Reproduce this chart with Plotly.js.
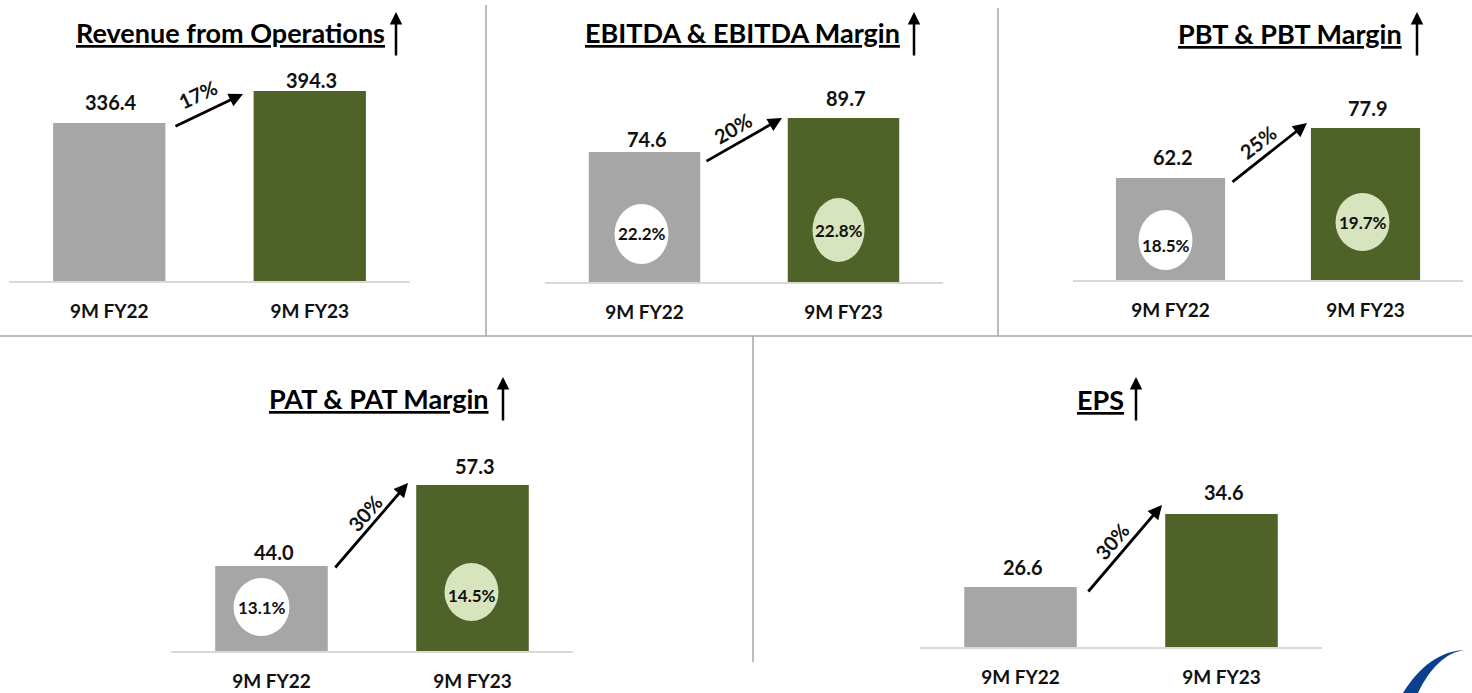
<!DOCTYPE html>
<html><head><meta charset="utf-8">
<script src="https://cdn.plot.ly/plotly-3.0.1.min.js"></script>
<style>html,body{margin:0;padding:0;background:#fff;overflow:hidden;} #chart{width:1472px;height:693px;}</style>
</head><body><div id="chart"></div>
<script>
// ---------------- data ----------------
const categories = ['9M FY22', '9M FY23'];
const titles = ['Revenue from Operations', 'EBITDA & EBITDA Margin', 'PBT & PBT Margin', 'PAT & PAT Margin', 'EPS'];
const revenue = [336.4, 394.3];
const ebitda = [74.6, 89.7];
const ebitdaMargin = [22.2, 22.8];
const pbt = [62.2, 77.9];
const pbtMargin = [18.5, 19.7];
const pat = [44.0, 57.3];
const patMargin = [13.1, 14.5];
const eps = [26.6, 34.6];
const growthLabels = ['17%', '20%', '25%', '30%', '30%'];

// ---------------- layout / style ----------------
const W = 1472, H = 693;
const px = x => x / W;
const py = y => 1 - y / H;
const FONT = 'Lato, "Open Sans", sans-serif';
const GRAY = '#a6a6a6', GREEN = '#4f6228', LIGHT = '#d7e4bd', WHITE = '#ffffff';
const BAR_COLORS = [GRAY, GREEN];
const CIRCLE_COLORS = [WHITE, LIGHT];

const panels = [
  { values: revenue, margins: null, title: titles[0], growth: growthLabels[0],
    box: [9, 410, 60, 281], yRange: [50.5, 450.4], titleXY: [231, 32], upArrow: [396, 12],
    valueShift: [21, 10.5], arrow: { hx: 0.667, ys: -3, ax: -69, ay: 33 },
    gLabel: { dx: -45, ys: -3, angle: -25 }, circles: null },
  { values: ebitda, margins: ebitdaMargin, title: titles[1], growth: growthLabels[1],
    box: [545, 943, 60, 282], yRange: [16.87, 115.46], titleXY: [743, 32], upArrow: [914, 12],
    valueShift: [13, 20], arrow: { hx: 0.691, ys: 0, ax: -77, ay: 44 },
    gLabel: { dx: -49, ys: -10, angle: -30 },
    circles: [{ dx: -3, dy: 48, rx: 27, ry: 30, ty: 49 }, { dx: -5, dy: 52, rx: 26, ry: 32, ty: 52 }] },
  { values: pbt, margins: pbtMargin, title: titles[2], growth: growthLabels[2],
    box: [1073, 1463, 60, 280], yRange: [30.17, 99.25], titleXY: [1290, 34], upArrow: [1417, 12],
    valueShift: [21, 20], arrow: { hx: 0.70, ys: 5, ax: -76, ay: 60 },
    gLabel: { dx: -49, ys: -14, angle: -38 },
    circles: [{ dx: -5, dy: 40, rx: 27, ry: 30, ty: 35 }, { dx: -3, dy: 58, rx: 27, ry: 29, ty: 58 }] },
  { values: pat, margins: patMargin, title: titles[3], growth: growthLabels[3],
    box: [171, 573, 440, 651], yRange: [30.04, 64.69], titleXY: [379, 398], upArrow: [503, 377],
    valueShift: [14, 19], arrow: { hx: 0.679, ys: 2, ax: -74, ay: 86 },
    gLabel: { dx: -43, ys: -28, angle: -49 },
    circles: [{ dx: -10, dy: 44, rx: 28, ry: 29, ty: 44 }, { dx: -1, dy: 59, rx: 27, ry: 29, ty: 56 }] },
  { values: eps, margins: null, title: titles[4], growth: growthLabels[4],
    box: [920, 1322, 440, 647], yRange: [20.02, 42.71], titleXY: [1100, 400], upArrow: [1136, 377],
    valueShift: [20, 22], arrow: { hx: 0.704, ys: 9, ax: -75, ay: 88 },
    gLabel: { dx: -50, ys: -27, angle: -50 }, circles: null }
];

const data = [];
const layout = {
  width: W, height: H,
  margin: { l: 0, r: 0, t: 0, b: 0 },
  paper_bgcolor: '#ffffff', plot_bgcolor: 'rgba(0,0,0,0)',
  showlegend: false,
  font: { family: FONT, color: '#000' },
  annotations: [], shapes: []
};

panels.forEach((p, k) => {
  const n = k === 0 ? '' : String(k + 1);
  const xa = 'x' + n, ya = 'y' + n;
  data.push({
    type: 'bar', x: categories, y: p.values, xaxis: xa, yaxis: ya,
    marker: { color: BAR_COLORS, line: { width: 0 } }, width: 0.56,
    hoverinfo: 'skip'
  });
  layout['xaxis' + n] = {
    domain: [px(p.box[0]), px(p.box[1])], anchor: ya, type: 'category',
    range: [-0.5, 1.5], showline: true, linecolor: '#d9d9d9', linewidth: 1.5,
    showgrid: false, zeroline: false, ticks: '', ticklabelstandoff: 13,
    tickfont: { family: FONT, size: 19, color: '#111', weight: 'bold' }, fixedrange: true
  };
  layout['yaxis' + n] = {
    domain: [py(p.box[3]), py(p.box[2])], anchor: xa, range: p.yRange,
    visible: false, showgrid: false, zeroline: false, fixedrange: true
  };
  // title
  layout.annotations.push({
    xref: 'paper', yref: 'paper', x: px(p.titleXY[0]), y: py(p.titleXY[1]),
    xanchor: 'center', yanchor: 'middle', showarrow: false,
    text: '<b><u>' + p.title + '</u></b>', font: { family: FONT, size: 27, color: '#000' }
  });
  // up arrow next to title
  layout.annotations.push({
    xref: 'paper', yref: 'paper', x: px(p.upArrow[0]), y: py(p.upArrow[1]),
    text: '', showarrow: true, ax: 0, ay: 45, arrowhead: 2, arrowsize: 1,
    arrowwidth: 2.5, arrowcolor: '#000', standoff: 0
  });
  // value labels
  p.values.forEach((v, i) => {
    layout.annotations.push({
      xref: xa, yref: ya, x: i, y: v, yshift: p.valueShift[i], xshift: 2,
      xanchor: 'center', yanchor: 'middle', showarrow: false,
      text: '<b>' + v.toFixed(1) + '</b>', font: { family: FONT, size: 20, color: '#111' }
    });
  });
  // growth arrow
  layout.annotations.push({
    xref: xa, yref: ya, x: p.arrow.hx, y: p.values[1], yshift: p.arrow.ys,
    axref: 'pixel', ayref: 'pixel', ax: p.arrow.ax, ay: p.arrow.ay,
    text: '', showarrow: true, arrowhead: 2, arrowsize: 1, arrowwidth: 2.8,
    arrowcolor: '#000', standoff: 0
  });
  layout.annotations.push({
    xref: xa, yref: ya, x: p.arrow.hx, y: p.values[1], xshift: p.gLabel.dx, yshift: p.gLabel.ys,
    showarrow: false, textangle: p.gLabel.angle, xanchor: 'center', yanchor: 'middle',
    text: '<b>' + p.growth + '</b>', font: { family: FONT, size: 20, color: '#111' }
  });
  // margin circles
  if (p.margins) {
    p.margins.forEach((m, i) => {
      const c = p.circles[i];
      layout.shapes.push({
        type: 'circle', xref: xa, yref: ya, xsizemode: 'pixel', ysizemode: 'pixel',
        xanchor: i, yanchor: p.yRange[0],
        x0: c.dx - c.rx, x1: c.dx + c.rx, y0: c.dy - c.ry, y1: c.dy + c.ry,
        fillcolor: CIRCLE_COLORS[i], line: { width: 0 }, layer: 'above'
      });
      layout.annotations.push({
        xref: xa, yref: ya, x: i, y: p.yRange[0], xshift: c.dx, yshift: c.ty,
        xanchor: 'center', yanchor: 'middle', showarrow: false,
        text: '<b>' + m.toFixed(1) + '%</b>', font: { family: FONT, size: 17, color: '#111' }
      });
    });
  }
});

// divider lines
const DIV = { color: '#a6a6a6', width: 1.5 };
[[486, 5, 486, 336], [998, 8, 998, 336], [0, 336, W, 336], [753, 336, 753, 662]].forEach(s => {
  layout.shapes.push({ type: 'line', xref: 'paper', yref: 'paper',
    x0: px(s[0]), y0: py(s[1]), x1: px(s[2]), y1: py(s[3]), line: DIV });
});
// logo swoosh (decorative)
const sw = [[1465, 650], [1446, 652], [1430, 668], [1418, 693], [1403, 693], [1420, 666], [1440, 651], [1465, 650]];
layout.shapes.push({ type: 'path', xref: 'paper', yref: 'paper',
  path: 'M ' + px(sw[0][0]) + ' ' + py(sw[0][1]) +
        ' C ' + px(sw[1][0]) + ' ' + py(sw[1][1]) + ' ' + px(sw[2][0]) + ' ' + py(sw[2][1]) + ' ' + px(sw[3][0]) + ' ' + py(sw[3][1]) +
        ' L ' + px(sw[4][0]) + ' ' + py(sw[4][1]) +
        ' C ' + px(sw[5][0]) + ' ' + py(sw[5][1]) + ' ' + px(sw[6][0]) + ' ' + py(sw[6][1]) + ' ' + px(sw[7][0]) + ' ' + py(sw[7][1]) + ' Z',
  fillcolor: '#0d3f8f', line: { width: 0 } });

Plotly.newPlot('chart', data, layout, { staticPlot: true, displayModeBar: false });
</script></body></html>
